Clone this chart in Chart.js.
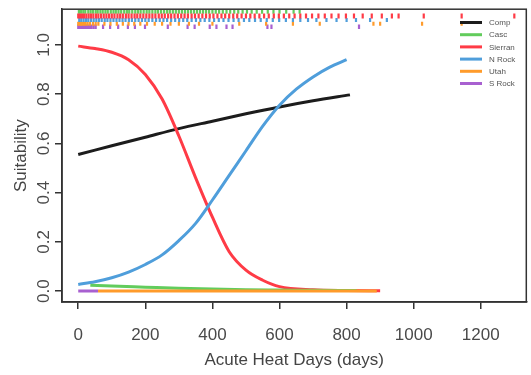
<!DOCTYPE html>
<html>
<head>
<meta charset="utf-8">
<script src="https://cdn.jsdelivr.net/npm/chart.js@4"></script>
<style>
  html, body { margin: 0; padding: 0; background: #fff; }
  #wrap { width: 531px; height: 375px; }
</style>
</head>
<body>
<div id="wrap"><canvas id="chart" width="531" height="375"></canvas></div>
<script>
// ------------------------------
// Data
// ------------------------------

const seriesNames = ["Comp", "Casc", "Sierran", "N Rock", "Utah", "S Rock"];
const seriesColors = ["#1c1c1c", "#62cc5c", "#ff3b46", "#4f9edb", "#ff9b2b", "#a860d0"];

const compDays = [0, 100, 200, 300, 400, 500, 600, 700, 810];
const compSuit = [0.555, 0.59, 0.625, 0.66, 0.69, 0.72, 0.748, 0.773, 0.797];

const cascDays = [36, 100, 200, 300, 400, 500, 600, 700, 830];
const cascSuit = [0.024, 0.021, 0.016, 0.011, 0.008, 0.005, 0.004, 0.003, 0.002];

const sierDays = [0, 50, 100, 150, 200, 250, 300, 350, 400, 450, 500, 550, 600, 700, 800, 900];
const sierSuit = [0.995, 0.985, 0.97, 0.94, 0.88, 0.78, 0.63, 0.46, 0.30, 0.16, 0.085, 0.044, 0.018, 0.005, 0.002, 0.001];

const nrockDays = [0, 50, 100, 150, 200, 250, 300, 350, 400, 450, 500, 550, 600, 650, 700, 750, 800];
const nrockSuit = [0.027, 0.038, 0.054, 0.077, 0.108, 0.147, 0.205, 0.275, 0.37, 0.47, 0.57, 0.67, 0.755, 0.82, 0.87, 0.91, 0.94];

const utahDays = [59, 890];
const utahSuit = [0.0, 0.0];

const srockDays = [0, 59];
const srockSuit = [0.0, 0.0];

// observed sites (rug along the top)
const cascRug = [2, 8, 15, 21, 30, 37, 44, 52, 58, 66, 73, 81, 88, 97, 105, 112, 120, 128, 137, 145, 152, 161, 170, 178, 186, 195, 204, 212, 221, 230, 238, 247, 256, 265, 273, 282, 291, 300, 309, 318, 327, 336, 345, 354, 363, 372, 381, 390, 400, 410, 420, 431, 442, 453, 465, 477, 490, 503, 517, 532, 548, 565, 582, 600, 620, 642, 660];
const sierRug = [0, 5, 11, 17, 24, 31, 38, 45, 53, 60, 68, 76, 84, 92, 100, 108, 117, 125, 133, 142, 150, 159, 168, 176, 185, 194, 203, 212, 221, 230, 240, 249, 258, 268, 277, 287, 297, 307, 317, 327, 338, 348, 359, 370, 381, 392, 403, 415, 427, 438, 450, 462, 474, 487, 500, 513, 526, 540, 554, 568, 583, 598, 613, 629, 645, 662, 679, 697, 716, 735, 755, 776, 798, 822, 848, 875, 905, 935, 955, 1030, 1143, 1300];
const nrockRug = [3, 9, 16, 23, 30, 38, 46, 54, 62, 70, 79, 87, 96, 105, 114, 123, 132, 141, 151, 160, 170, 180, 190, 200, 210, 221, 232, 243, 254, 265, 277, 289, 301, 313, 325, 338, 351, 364, 377, 391, 405, 419, 433, 448, 463, 478, 494, 510, 527, 544, 562, 580, 599, 619, 640, 662, 685, 710, 740, 770, 800, 828, 870, 920];
const utahRug = [0, 4, 8, 12, 17, 22, 28, 35, 44, 52, 60, 78, 96, 115, 133, 150, 167, 185, 205, 228, 250, 275, 300, 330, 360, 400, 480, 560, 640, 720, 880, 900, 1025, 1143];
const srockRug = [0, 3, 6, 9, 12, 15, 18, 22, 26, 30, 35, 40, 46, 52, 74, 95, 119, 148, 169, 199, 267, 326, 347, 392, 412, 442, 460, 564, 576, 837];
const rugRows = [1.134, 1.117, 1.101, 1.086, 1.074];

const xTicks = [0, 200, 400, 600, 800, 1000, 1200];
const yTicks = [0, 0.2, 0.4, 0.6, 0.8, 1.0];

// ------------------------------
// Build datasets
// ------------------------------

function pairs(xs, ys) {
    return xs.map((x, i) => ({ x: x, y: ys[i] }));
}

function curve(i, xs, ys) {
    return {
        label: seriesNames[i],
        data: pairs(xs, ys),
        borderColor: seriesColors[i],
        borderWidth: 3,
        pointRadius: 0,
        fill: false,
        cubicInterpolationMode: "monotone"
    };
}

function rug(i, xs, row, r) {
    return {
        label: seriesNames[i] + " sites",
        rug: true,
        data: xs.map(x => ({ x: x, y: row })),
        showLine: false,
        pointStyle: "line",
        rotation: 90,
        pointRadius: r,
        pointHoverRadius: r,
        pointBorderWidth: 2.2,
        pointBorderColor: seriesColors[i],
        borderColor: seriesColors[i]
    };
}

// first dataset is painted last (on top)
const datasets = [
    rug(2, sierRug, rugRows[1], 2.5),
    rug(1, cascRug, rugRows[0], 1.8),
    rug(3, nrockRug, rugRows[2], 2),
    rug(4, utahRug, rugRows[3], 2),
    rug(5, srockRug, rugRows[4], 2.2),
    curve(4, utahDays, utahSuit),
    curve(1, cascDays, cascSuit),
    curve(5, srockDays, srockSuit),
    curve(3, nrockDays, nrockSuit),
    curve(2, sierDays, sierSuit),
    curve(0, compDays, compSuit)
];

// ------------------------------
// Frame + legend inside plot
// ------------------------------

const framePlugin = {
    id: "frame",
    afterDraw(chart) {
        const ctx = chart.ctx;
        const a = chart.chartArea;
        ctx.save();
        ctx.strokeStyle = "#333";
        ctx.lineWidth = 1.5;
        ctx.strokeRect(a.left, a.top, a.right - a.left, a.bottom - a.top);

        // legend, top right
        const lines = chart.data.datasets.filter(d => !d.rug);
        const order = seriesNames.map(n => lines.find(d => d.label === n));
        ctx.font = "8px 'Liberation Sans', Arial, sans-serif";
        ctx.textBaseline = "middle";
        ctx.textAlign = "left";
        order.forEach((d, i) => {
            const y = 22.5 + i * 12.2;
            ctx.strokeStyle = d.borderColor;
            ctx.lineWidth = 3;
            ctx.beginPath();
            ctx.moveTo(460, y);
            ctx.lineTo(482, y);
            ctx.stroke();
            ctx.fillStyle = "#555";
            ctx.fillText(d.label, 489, y + 0.5);
        });
        ctx.restore();
    }
};

// ------------------------------
// Chart
// ------------------------------

const font = { family: "'Liberation Sans', Arial, sans-serif", size: 17 };

new Chart(document.getElementById("chart"), {
    type: "line",
    data: { datasets: datasets },
    options: {
        responsive: false,
        animation: false,
        events: [],
        layout: { padding: { top: 7, right: 3, left: 0, bottom: 0 } },
        plugins: {
            legend: { display: false },
            tooltip: { enabled: false }
        },
        scales: {
            x: {
                type: "linear",
                min: -48.4,
                max: 1335.7,
                afterBuildTicks: s => { s.ticks = xTicks.map(v => ({ value: v })); },
                afterFit: s => { s.height = 73; },
                grid: { drawOnChartArea: false, drawTicks: true, tickLength: 7, color: "#333", lineWidth: 1.5 },
                border: { display: true, color: "#333", width: 1.5 },
                ticks: { color: "#4a4a4a", font: font, padding: 16, maxRotation: 0, callback: v => String(v) },
                title: { display: true, text: "Acute Heat Days (days)", color: "#444", font: font, padding: { top: 0, bottom: 4 } }
            },
            y: {
                type: "linear",
                min: -0.0444,
                max: 1.145,
                afterBuildTicks: s => { s.ticks = yTicks.map(v => ({ value: v })); },
                afterFit: s => { s.width = 62; },
                grid: { drawOnChartArea: false, drawTicks: true, tickLength: 7, color: "#333", lineWidth: 1.5 },
                border: { display: true, color: "#333", width: 1.5 },
                ticks: {
                    color: "#4a4a4a", font: font, padding: -1,
                    minRotation: 90, maxRotation: 90, crossAlign: "center",
                    callback: v => v.toFixed(1)
                },
                title: { display: true, text: "Suitability", color: "#444", font: font, padding: { top: 11, bottom: 0 } }
            }
        }
    },
    plugins: [framePlugin]
});
</script>
</body>
</html>
